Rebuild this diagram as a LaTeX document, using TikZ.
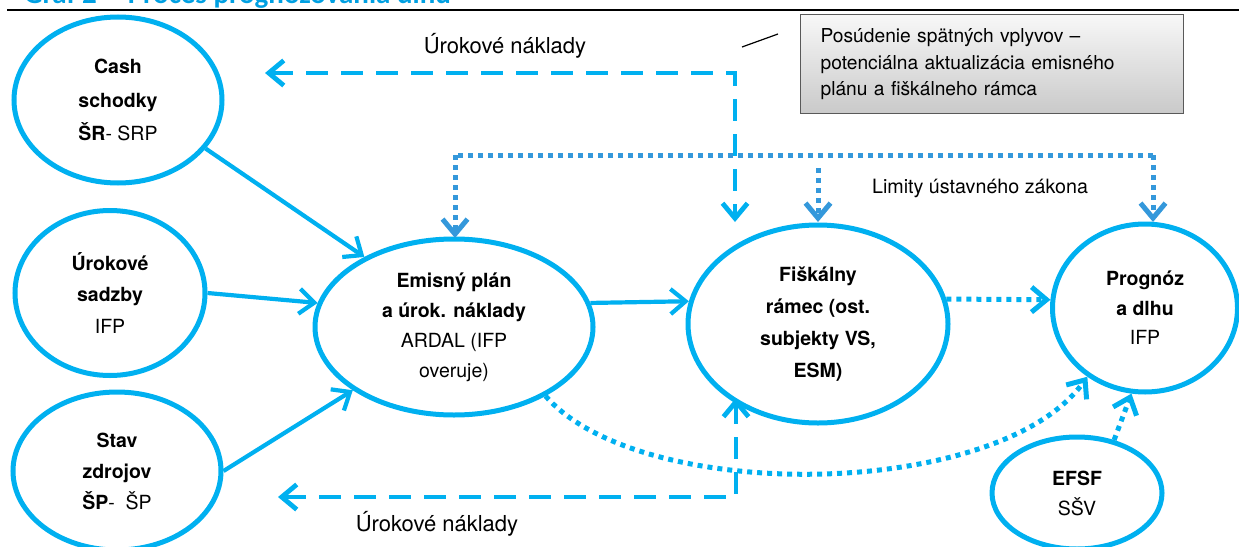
\documentclass[tikz,border=0pt]{standalone}
\usepackage{fontspec}
\setmainfont{TeX Gyre Heros}
\newfontfamily\titlefont{Carlito}
\usetikzlibrary{arrows.meta,shapes.geometric}

\definecolor{cyanline}{RGB}{0,176,240}
\definecolor{dotblue}{RGB}{52,152,219}
\definecolor{titleblue}{RGB}{0,160,226}

\tikzset{
  bubble/.style={ellipse, draw=cyanline, line width=5pt, inner sep=0pt,
    align=center, font=\fontsize{19.5}{31}\selectfont},
  barb/.style={-{Straight Barb[length=15pt,width=25pt]}},
  twobarb/.style={{Straight Barb[length=15pt,width=25pt]}-{Straight Barb[length=15pt,width=25pt]}},
  flow/.style={draw=cyanline, line width=4.2pt, barb},
  feedback/.style={draw=cyanline, line width=4.8pt, dash pattern=on 22pt off 13pt, twobarb},
  dots/.style={draw=cyanline, line width=5pt, dash pattern=on 5pt off 5pt, barb},
  limit/.style={draw=dotblue, line width=5pt, dash pattern=on 5pt off 5pt},
  caption/.style={font=\fontsize{22}{26}\selectfont},
  notebox/.style={draw=gray!70!black, line width=1.2pt, top color=gray!6, bottom color=gray!42,
    anchor=north west, minimum width=383pt, minimum height=99pt, text width=343pt,
    inner xsep=20pt, align=left, font=\fontsize{19.2}{26.5}\selectfont},
}

\begin{document}
\begin{tikzpicture}[x=1pt,y=-1pt]
\useasboundingbox (0,0) rectangle (1239,546);

% heading and rule
\node[anchor=base west, inner sep=0pt, text=titleblue, font=\titlefont\bfseries\fontsize{29}{32}\selectfont]
  (title) at (24,4) {Graf 2 -- Proces prognózovania dlhu};
\draw[line width=2.5pt] (7,10) -- (1239,10);

% process bubbles
\node[bubble, minimum width=208pt, minimum height=166pt, font=\fontsize{19.5}{33.5}\selectfont] (cash) at (118,100)
  {\textbf{Cash}\\\textbf{schodky}\\\textbf{ŠR}- SRP};
\node[bubble, minimum width=190pt, minimum height=165pt, font=\fontsize{19.5}{31.5}\selectfont] (urok) at (110,293)
  {\textbf{Úrokové}\\\textbf{sadzby}\\IFP};
\node[bubble, minimum width=208pt, minimum height=158pt] (stav) at (117,471)
  {\textbf{Stav}\\\textbf{zdrojov}\\\textbf{ŠP}-\ \ ŠP};
\node[bubble, minimum width=278pt, minimum height=176pt, font=\fontsize{19.5}{30}\selectfont] (emisny) at (454,327)
  {\textbf{Emisný plán}\\\textbf{a úrok. náklady}\\ARDAL (IFP\\overuje)};
\node[bubble, minimum width=260pt, minimum height=198pt, font=\fontsize{19.5}{31.8}\selectfont] (fiskal) at (818,324)
  {\textbf{Fiškálny}\\\textbf{rámec (ost.}\\\textbf{subjekty VS,}\\\textbf{ESM)}};
\node[bubble, minimum width=185pt, minimum height=168pt, font=\fontsize{19.5}{29.5}\selectfont] (prognoz) at (1145,308)
  {\textbf{Prognóz}\\\textbf{a dlhu}\\IFP};
\node[bubble, minimum width=170pt, minimum height=112pt, font=\fontsize{19.5}{30}\selectfont] (efsf) at (1077,493)
  {\textbf{EFSF}\\SŠV};

% note box with its pointer
\node[notebox] (note) at (800,14)
  {Posúdenie spätných vplyvov --\\potenciálna aktualizácia emisného\\plánu a fiškálneho rámca};
\coordinate (ptrA) at (742,47);
\coordinate (ptrB) at (778,34);
\draw[line width=1.2pt] (ptrA) -- (ptrB);

% labels
\node[caption] (ucTop) at (505,46) {Úrokové náklady};
\node[caption] (ucBot) at (437,524) {Úrokové náklady};
\node[caption, font=\fontsize{19.7}{23}\selectfont] (lim) at (980,188) {Limity ústavného zákona};

% solid flows into the issuance plan
\draw[flow] (cash.-29) -- (emisny.142);
\draw[flow] (urok.east) -- (emisny.170);
\draw[flow] (stav.east) -- (emisny.-148);
\draw[flow] (emisny.10.5) -- (fiskal.170);

% dashed feedback of interest costs
\coordinate (fbTopL) at (265,73);
\coordinate (fbTopC) at (735,73);
\coordinate (fbTopD) at (735,222);
\draw[feedback] (fbTopL) -- (fbTopC) -- (fbTopD);
\coordinate (fbBotL) at (278,497);
\coordinate (fbBotC) at (736,497);
\coordinate (fbBotU) at (736,398);
\draw[feedback] (fbBotL) -- (fbBotC) -- (fbBotU);

% constitutional limits
\coordinate (limL) at (455,155);
\coordinate (limR) at (1153,155);
\coordinate (limM) at (818,168);
\draw[limit] (limR) -- (limL);
\draw[limit, barb] (limL) -- (455,238);
\draw[limit, barb] (limR) -- (1153,222);
\draw[limit, barb] (limM) -- (818,222);

% dotted flows into the debt forecast
\draw[dots] (fiskal.11) -- (prognoz.175);
\draw[dots] (emisny.-37) .. controls (640,505) and (1000,500) .. (prognoz.-130);
\draw[dots] (efsf.55) -- (prognoz.-99);
\end{tikzpicture}
\end{document}
